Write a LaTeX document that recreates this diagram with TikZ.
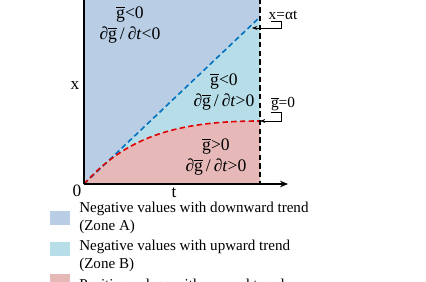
\documentclass[tikz,border=0pt]{standalone}
\usepackage{fontspec}
\setmainfont{Liberation Serif}
\usetikzlibrary{arrows.meta, positioning, calc}
\definecolor{cZoneA}{HTML}{B9CDE5}
\definecolor{cZoneB}{HTML}{B7DEE8}
\definecolor{cZoneC}{HTML}{E6B9B8}
\definecolor{cLineA}{HTML}{0070C0}
\definecolor{cLineC}{HTML}{E00000}
\tikzset{
	axis/.style     ={line width=1.3pt, -{Stealth[length=6pt, width=5pt]}},
	bound/.style    ={line width=1.2pt, dash pattern=on 4pt off 2.5pt},
	zonelbl/.style  ={font=\fontsize{13.2}{14.5}\selectfont, align=center, inner sep=0pt},
	curvelbl/.style ={font=\fontsize{11.5}{13}\selectfont, inner sep=1pt},
	pointer/.style  ={thin, -{Stealth[length=4pt, width=3pt]}},
	swatch/.style   ={rectangle, minimum width=15pt, minimum height=10.5pt, inner sep=0pt},
	legtxt/.style   ={anchor=west, align=left, font=\fontsize{11.3}{13.5}\selectfont, inner sep=0pt},
}
\newcommand{\gbar}{$\overline{\mbox{g}}$}
\begin{document}
\begin{tikzpicture}[x=0.75pt, y=-0.75pt]
	\useasboundingbox (0,0) rectangle (426,282);
	% zones
	\coordinate (o) at (84,184);
	\coordinate (tipA) at (260,17);
	\coordinate (tipC) at (260,121);
	\coordinate (foot) at (260,184);
	\fill[cZoneA] (84,-10) rectangle (foot);
	\fill[cZoneB] (o) -- (tipA) -- (tipC) .. controls (170,121) and (124,140) .. (o) -- cycle;
	\fill[cZoneC] (o) .. controls (124,140) and (170,121) .. (tipC) -- (foot) -- cycle;
	% boundaries
	\draw[bound, cLineA] (o) -- (tipA);
	\draw[bound, cLineC] (o) .. controls (124,140) and (170,121) .. (tipC);
	\draw[bound, black, line width=1.5pt] (260,-10) -- (foot);
	% axes
	\draw[line width=1.5pt] (o) -- (84,-10);
	\draw[axis] (o) -- (288,184);
	\node[curvelbl, font=\fontsize{13}{14}\selectfont] (zero) at (77,191) {0};
	\node[curvelbl, font=\fontsize{13}{14}\selectfont] (tlbl) at (174,193) {t};
	\node[curvelbl, font=\fontsize{13}{14}\selectfont] (xlbl) at (75,86) {x};
	% zone labels
	\node[zonelbl] (zA) at (130,25) {\gbar<0\\[1pt]∂\gbar\,/\,∂\textit{t}<0};
	\node[zonelbl] (zB) at (224,92) {\gbar<0\\[1pt]∂\gbar\,/\,∂\textit{t}>0};
	\node[zonelbl] (zC) at (216,157) {\gbar>0\\[1pt]∂\gbar\,/\,∂\textit{t}>0};
	% curve labels
	\node[curvelbl] (lalpha) at (283,15) {x=αt};
	\node[curvelbl] (lzero) at (283,104) {\gbar=0};
	\draw[pointer] ([xshift=-9pt]lalpha.south) -- ([xshift=-1pt]lalpha.south) |- ([xshift=-6pt]tipA |- 0,28);
	\draw[pointer] ([xshift=-9pt]lzero.south) -- ([xshift=-1pt]lzero.south) |- (tipC);
	% legend
	\node[swatch, fill=cZoneA] (sA) at (60,217.5) {};
	\node[swatch, fill=cZoneB] (sB) at (60,249) {};
	\node[swatch, fill=cZoneC] (sC) at (60,281) {};
	\node[legtxt] (tA) at (79,218) {Negative values with downward trend\\(Zone A)};
	\node[legtxt] (tB) at (79,256) {Negative values with upward trend\\(Zone B)};
	\node[legtxt] (tC) at (79,286) {Positive values with upward trend};
\end{tikzpicture}
\end{document}
